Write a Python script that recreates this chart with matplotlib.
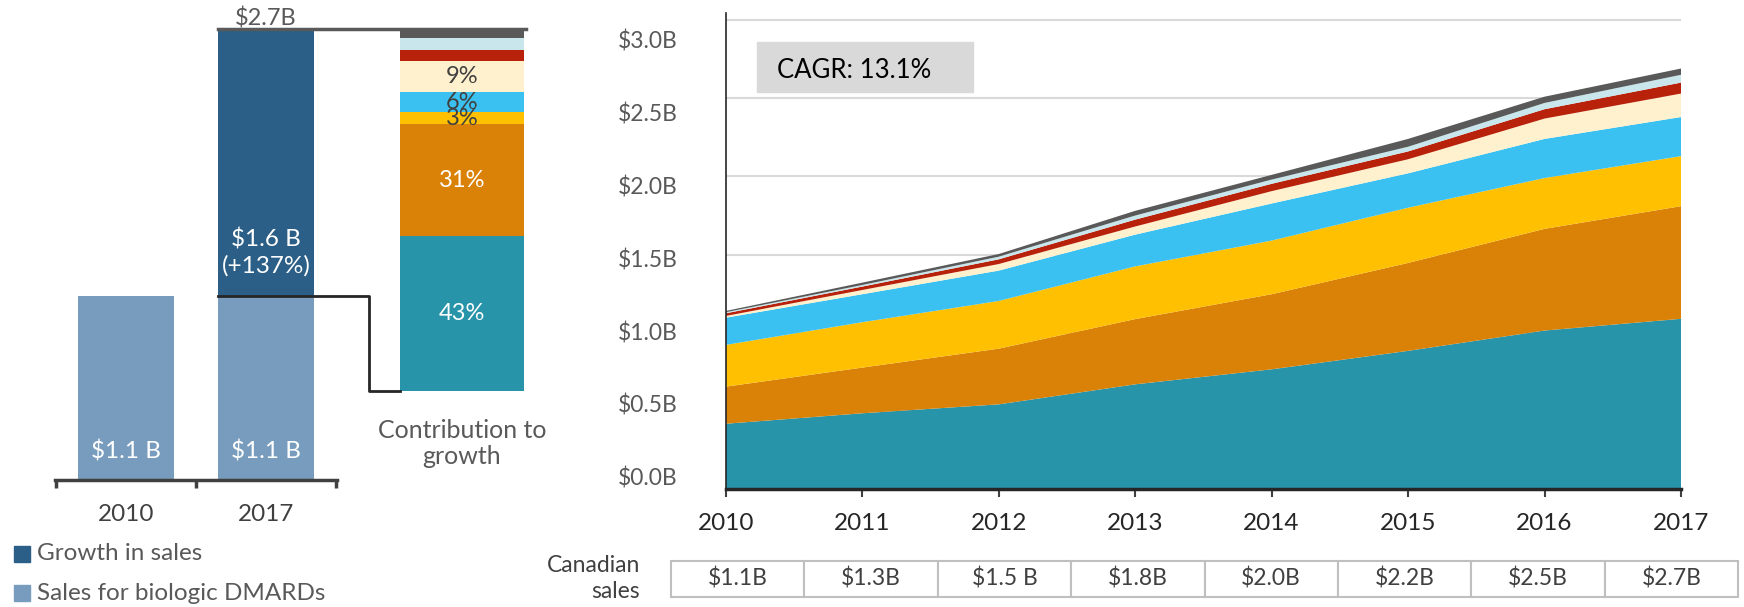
import numpy as np
import matplotlib.pyplot as plt
from matplotlib.patches import Rectangle

plt.rcParams['font.family'] = ['Lato', 'DejaVu Sans']

# ---------- data ----------
years     = [2010, 2011, 2012, 2013, 2014, 2015, 2016, 2017]
teal      = [0.419, 0.486, 0.543, 0.671, 0.767, 0.885, 1.015, 1.090]
orange    = [0.237, 0.292, 0.356, 0.417, 0.480, 0.562, 0.650, 0.720]
yellow    = [0.267, 0.290, 0.305, 0.337, 0.343, 0.353, 0.325, 0.320]
blue      = [0.174, 0.179, 0.194, 0.203, 0.237, 0.220, 0.250, 0.250]
cream     = [0.011, 0.027, 0.042, 0.052, 0.079, 0.090, 0.130, 0.150]
red       = [0.017, 0.022, 0.030, 0.044, 0.047, 0.050, 0.060, 0.070]
lightblue = [0.007, 0.010, 0.017, 0.026, 0.027, 0.030, 0.040, 0.050]
grey      = [0.008, 0.015, 0.017, 0.030, 0.030, 0.050, 0.040, 0.040]
sales_labels = ["$1.1B", "$1.3B", "$1.5 B", "$1.8B", "$2.0B", "$2.2B", "$2.5B", "$2.7B"]
ytick_vals   = [0.0, 0.5, 1.0, 1.5, 2.0, 2.5, 3.0]
ytick_labels = ["$0.0B", "$0.5B", "$1.0B", "$1.5B", "$2.0B", "$2.5B", "$3.0B"]
cagr_text = "CAGR: 13.1%"

bar_years   = ["2010", "2017"]
base_sales  = [1.1, 1.1]
growth      = [0.0, 1.6]
base_labels = ["$1.1 B", "$1.1 B"]
growth_label = "$1.6 B\n(+137%)"
total_label  = "$2.7B"
contrib        = [42.9, 30.8, 3.4, 5.4, 8.7, 3.1, 3.2, 2.5]
contrib_labels = ["43%", "31%", "3%", "6%", "9%", "", "", ""]
legend_labels  = ["Growth in sales", "Sales for biologic DMARDs"]
# --------------------------

layer_colors = ['#2794a9', '#da8108', '#fec000', '#3bc1f1', '#fff1cd',
                '#b8220a', '#c8e6ec', '#595959']
contrib_label_colors = ['white', 'white', '#404040', '#404040', '#404040',
                        'white', 'white', 'white']
dark_bar = '#2b5f87'
light_bar = '#789cbd'

W, H = 1744, 607
fig = plt.figure(figsize=(W / 100, H / 100), dpi=100)


def box(x0, top, x1, bottom):
    # pixel box (from top-left) -> figure rect
    return [x0 / W, 1 - bottom / H, (x1 - x0) / W, (bottom - top) / H]


# ---------- left: bridge + contribution ----------
axl = fig.add_axes(box(0, 0, 560, 480))
axl.set_xlim(-0.9, 3.1)
axl.set_ylim(0, 2.874)
axl.axis('off')

xb = np.arange(len(bar_years))
bw = 0.686
axl.bar(xb, base_sales, width=bw, color=light_bar, zorder=2)
axl.bar(xb[1:], growth[1:], bottom=base_sales[1:], width=bw, color=dark_bar, zorder=2)
total = base_sales[1] + growth[1]

for x, v, lab in zip(xb, base_sales, base_labels):
    axl.text(x, 0.17, lab, ha='center', va='center', color='white', fontsize=17.5)
axl.text(xb[1], base_sales[1] + 0.26, growth_label, ha='center', va='center',
         color='white', fontsize=17.5, linespacing=1.25)
axl.text(xb[1], total + 0.065, total_label, ha='center', va='center',
         color='#595959', fontsize=17)

# contribution bar, scaled into the space between the connector and the total
cx, cw, c0 = 2.40, 0.88, 0.53
scale = (total - c0) / 100
bottoms = c0 + np.concatenate([[0], np.cumsum(contrib)[:-1]]) * scale
for b, v, col, lab, lc in zip(bottoms, contrib, layer_colors, contrib_labels,
                              contrib_label_colors):
    axl.bar(cx, v * scale, bottom=b, width=cw, color=col, zorder=2)
    if lab:
        axl.text(cx, b + v * scale / 2, lab, ha='center', va='center',
                 color=lc, fontsize=17, zorder=3)
axl.text(cx, 0.219, "Contribution to\ngrowth", ha='center', va='center',
         color='#595959', fontsize=18, linespacing=1.2)

# connectors
x_left = xb[1] - bw / 2
axl.plot([x_left, 1.736, 1.736, cx - cw / 2], [base_sales[1], base_sales[1], c0, c0],
         color='#262626', lw=2, zorder=3)
axl.plot([x_left, cx + cw / 2 + 0.02], [total, total], color='#595959', lw=2.5, zorder=3)

# category axis
axl.plot([-0.507, 1.507], [0, 0], color='#404040', lw=2.5, clip_on=False)
axl.vlines([-0.5, 0.5, 1.5], -0.05, 0, color='#404040', lw=2.5, clip_on=False)
for x, lab in zip(xb, bar_years):
    axl.text(x, -0.204, lab, ha='center', va='center', color='#404040', fontsize=17.5)

# legend
for i, (lab, col) in enumerate(zip(legend_labels, [dark_bar, light_bar])):
    yc = 554 + 39 * i
    fig.add_artist(Rectangle((14 / W, 1 - (yc + 8) / H), 16 / W, 16 / H,
                             transform=fig.transFigure, color=col))
    fig.text(37 / W, 1 - yc / H, lab, ha='left', va='center', color='#595959',
             fontsize=17.5)

# ---------- right: stacked area ----------
axr = fig.add_axes(box(725.7, 13, 1681, 489.3))
axr.stackplot(years, teal, orange, yellow, blue, cream, red, lightblue, grey,
              colors=layer_colors, lw=0, zorder=2)
axr.set_xlim(years[0], years[-1])
axr.set_ylim(0, 3.045)
for v in ytick_vals[1:]:
    axr.axhline(v, color='#d9d9d9', lw=1.5, zorder=0.5)

# tick labels sit slightly off the gridlines in the original
label_pos = [0.079 + 0.933 * v for v in ytick_vals]
axr.set_yticks(label_pos, ytick_labels)
axr.set_xticks(years, [str(y) for y in years])
axr.tick_params(axis='y', length=0, pad=34.5, labelsize=16.5, labelcolor='#595959')
axr.tick_params(axis='x', length=6, width=1.5, color='#404040', pad=11,
                labelsize=17.5, labelcolor='#262626')
for s in ['top', 'right']:
    axr.spines[s].set_visible(False)
axr.spines['left'].set_color('#262626')
axr.spines['left'].set_linewidth(1.2)
axr.spines['bottom'].set_color('#262626')
axr.spines['bottom'].set_linewidth(2.5)
axr.spines['bottom'].set_zorder(5)

# CAGR box
axr.add_patch(Rectangle((0.0328, 0.8348), 0.2256, 0.105, transform=axr.transAxes,
                        color='#d9d9d9', zorder=3))
axr.text(0.0537, 0.879, cagr_text, transform=axr.transAxes, ha='left', va='center',
         fontsize=18.5, color='black', zorder=4)

# ---------- sales table ----------
axt = fig.add_axes(box(671, 561, 1738, 597))
tab = axt.table(cellText=[sales_labels], cellLoc='center', bbox=[0, 0, 1, 1])
tab.auto_set_font_size(False)
for cell in tab.get_celld().values():
    cell.set_edgecolor('#bfbfbf')
    cell.set_linewidth(1.5)
    cell.get_text().set_fontsize(16.5)
    cell.get_text().set_color('#404040')
axt.axis('off')

fig.text(640 / W, 1 - 578.5 / H, "Canadian\nsales", ha='right', va='center',
         color='#404040', fontsize=16.5, linespacing=1.3)

fig.savefig('out.png', dpi=100)
